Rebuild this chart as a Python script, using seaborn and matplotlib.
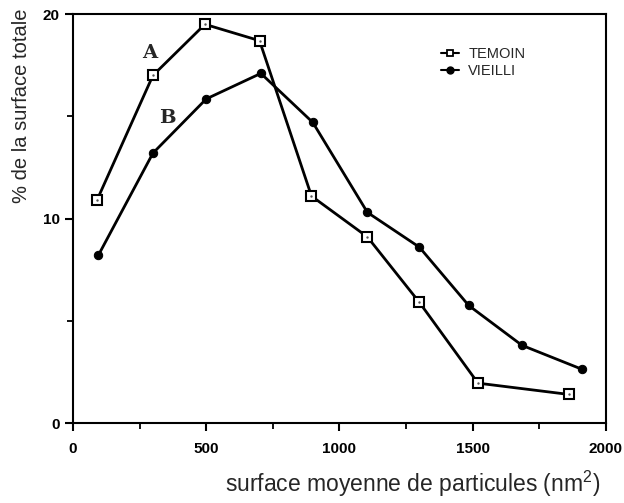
import matplotlib
matplotlib.use("Agg")
from matplotlib import pyplot as plt
from matplotlib.lines import Line2D
import seaborn as sns
import pandas as pd

# values
temoin_x = [90, 300, 495, 700, 895, 1105, 1300, 1520, 1860]
temoin_y = [10.9, 17.0, 19.5, 18.7, 11.1, 9.1, 5.9, 1.95, 1.4]
vieilli_x = [95, 300, 500, 705, 900, 1105, 1300, 1485, 1685, 1910]
vieilli_y = [8.2, 13.2, 15.85, 17.1, 14.7, 10.3, 8.6, 5.75, 3.8, 2.63]
series_names = ['TEMOIN', 'VIEILLI']
x_ticks = [0, 500, 1000, 1500, 2000]
y_ticks = [0, 10, 20]

temoin = pd.DataFrame({'x': temoin_x, 'y': temoin_y})
vieilli = pd.DataFrame({'x': vieilli_x, 'y': vieilli_y})

sns.set_theme(style='ticks')
plt.rcParams['font.family'] = ['Liberation Sans', 'DejaVu Sans']
plt.rcParams['mathtext.fontset'] = 'custom'
plt.rcParams['mathtext.rm'] = 'Liberation Sans'

fig = plt.figure(figsize=(6.24, 5.03), dpi=100)
ax = fig.add_axes([0.117, 0.159, 0.854, 0.813])

sns.lineplot(data=temoin, x='x', y='y', ax=ax, color='black', lw=2,
             marker='s', markersize=7, markerfacecolor='white',
             markeredgecolor='black', markeredgewidth=1.5, zorder=3)
sns.scatterplot(data=temoin, x='x', y='y', ax=ax, color='#555555', s=3,
                linewidth=0, zorder=4)
sns.lineplot(data=vieilli, x='x', y='y', ax=ax, color='black', lw=2,
             marker='o', markersize=6, markerfacecolor='black',
             markeredgecolor='black', zorder=3)

ax.set_xlim(0, 2000)
ax.set_ylim(0, 20)
ax.set_xticks(x_ticks)
ax.set_yticks(y_ticks)
ax.set_xticks([250, 750, 1250, 1750], minor=True)
ax.set_yticks([5, 15], minor=True)
ax.tick_params(which='major', direction='out', length=6, width=1.5,
               labelsize=11, color='black', labelcolor='black')
ax.tick_params(which='minor', direction='out', length=4, width=1.3,
               color='black')
ax.tick_params(axis='x', pad=8)
for lab in ax.get_xticklabels() + ax.get_yticklabels():
    lab.set_fontweight('bold')

for side in ['left', 'right', 'top', 'bottom']:
    ax.spines[side].set_visible(True)
    ax.spines[side].set_linewidth(1.5)
    ax.spines[side].set_color('black')

ax.set_xlabel('')
ax.set_ylabel('')
fig.text(0.962, 0.008, r'surface moyenne de particules (nm$\mathregular{^2}$)',
         ha='right', va='bottom', fontsize=16.5)
fig.text(0.035, 0.79, '% de la surface totale', rotation=90,
         ha='center', va='center', fontsize=14.5)

# curve labels, typewriter style as in the original
for letter, lx, ly in [('A', 289, 18.1), ('B', 353, 14.9)]:
    ax.text(lx, ly, letter, fontfamily='DejaVu Serif', fontweight='bold',
            fontsize=14, ha='center', va='center')

handles = [
    Line2D([], [], color='black', lw=1.5, marker='s', markersize=5,
           markerfacecolor='white', markeredgewidth=1.3),
    Line2D([], [], color='black', lw=1.5, marker='o', markersize=5),
]
ax.legend(handles, series_names, loc='upper left',
          bbox_to_anchor=(0.665, 0.952), frameon=False, fontsize=10.5,
          handlelength=1.3, handletextpad=0.6, labelspacing=0.25)

fig.savefig('out.png', dpi=100)
